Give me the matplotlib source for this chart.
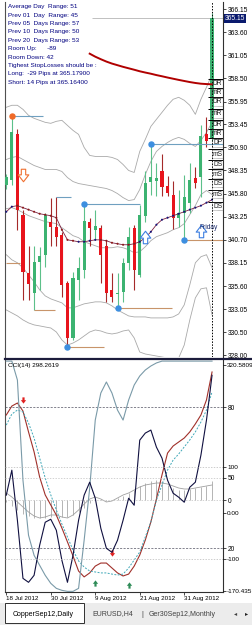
import matplotlib
matplotlib.use("Agg")
import matplotlib.pyplot as plt
from matplotlib.path import Path
from matplotlib.patches import Rectangle
from matplotlib.lines import Line2D
from matplotlib import transforms

W, H = 253, 625
plt.rcParams["font.family"] = ["Liberation Sans", "DejaVu Sans"]

# ---- CopperSep12 daily bars, 18 Jul 2012 .. 7 Sep 2012 ----
opens = [346.70, 347.35, 352.32, 343.47, 337.06, 334.85, 338.31, 339.05, 342.70, 342.15,
         341.26, 335.95, 329.87, 336.28, 337.39, 342.70, 341.74, 342.00, 339.97, 335.18,
         334.73, 334.99, 338.16, 342.00, 336.84, 343.30, 347.12, 347.20, 348.26, 346.68,
         345.68, 343.14, 343.70, 344.80, 347.56, 347.68, 352.32, 351.77]
highs = [348.00, 354.40, 352.88, 344.00, 339.97, 340.04, 339.93, 343.70, 345.30, 345.43,
         341.60, 336.20, 337.10, 338.83, 344.69, 343.10, 344.03, 342.37, 340.70, 337.06,
         337.06, 338.70, 342.15, 342.37, 344.58, 348.26, 351.22, 349.20, 350.20, 347.70,
         347.16, 346.24, 347.90, 349.20, 348.70, 353.40, 354.20, 365.70]
lows = [346.30, 346.80, 341.80, 334.07, 334.07, 332.97, 335.18, 337.75, 339.97, 339.97,
        334.40, 328.87, 329.65, 334.07, 336.50, 339.97, 340.70, 335.90, 333.85, 333.85,
        333.19, 333.85, 337.39, 335.18, 336.60, 342.70, 345.70, 345.50, 345.50, 345.50,
        341.90, 342.15, 340.70, 343.70, 346.46, 345.46, 350.90, 351.55]
closes = [347.68, 352.54, 344.03, 337.20, 335.84, 338.27, 338.94, 343.47, 342.15, 341.04,
          335.73, 329.87, 336.50, 337.61, 342.73, 342.00, 342.26, 339.05, 334.85, 334.45,
          334.85, 338.16, 341.04, 337.39, 343.47, 347.00, 347.68, 347.56, 346.50, 345.90,
          343.10, 343.70, 345.46, 347.34, 347.00, 352.10, 351.60, 365.15]

date_ticks = [0, 8, 16, 24, 32]
date_labels = ["18 Jul 2012", "30 Jul 2012", "9 Aug 2012", "21 Aug 2012", "31 Aug 2012"]
price_ticks = [366.15, 363.60, 361.05, 358.50, 355.95, 353.45, 350.90, 348.35,
               345.80, 343.25, 340.70, 338.15, 335.60, 333.05, 330.50, 328.00]
bid = 365.15

# long moving average (starts at bar 15)
ma_long_start = 15
ma_long = [361.23, 360.90, 360.62, 360.36, 360.14, 359.96, 359.78, 359.62, 359.46, 359.29,
           359.15, 359.02, 358.87, 358.74, 358.60, 358.47, 358.34, 358.22, 358.10, 358.00,
           357.92, 357.88, 357.85]
# short dotted moving average and its trend colour (1 = up, 0 = down)
ma_dot = [343.80, 344.36, 344.47, 344.25, 344.03, 343.80, 343.58, 343.47, 343.36, 343.14,
          341.81, 340.70, 340.60, 340.49, 340.49, 340.60, 340.70, 340.70, 340.60, 340.38,
          340.27, 340.16, 340.16, 340.27, 340.49, 340.93, 341.59, 342.37, 342.92, 343.14,
          343.36, 343.58, 343.80, 344.03, 344.25, 344.47, 344.80, 345.13]
ma_dot_up = [1, 1, 0, 0, 0, 0, 0, 0, 0, 0, 0, 0, 0, 1, 1, 1, 1, 0, 0, 0,
             0, 0, 0, 0, 1, 1, 1, 1, 1, 1, 1, 1, 1, 1, 1, 1, 1, 1]

# bands
bb_up2 = [355.32, 355.54, 355.54, 355.09, 354.43, 354.10, 353.88, 353.66, 353.55, 353.77,
          353.88, 353.32, 352.77, 352.33, 350.89, 350.01, 349.90, 349.90, 349.90, 349.79,
          349.56, 349.01, 348.35, 348.13, 350.45, 351.78, 353.21, 353.99, 354.76, 355.54,
          356.20, 356.42, 356.09, 355.54, 354.54, 356.20, 357.53, 358.96]
bb_up1 = [349.56, 349.79, 349.90, 349.56, 349.23, 348.90, 348.68, 348.46, 348.46, 348.46,
          348.24, 347.57, 347.13, 346.91, 346.80, 346.69, 346.58, 346.47, 346.36, 346.14,
          345.80, 345.36, 345.03, 345.14, 346.25, 347.91, 349.34, 350.45, 351.00, 351.44,
          351.78, 352.00, 351.78, 351.33, 351.00, 351.66, 352.55, 353.66]
bb_mid = [344.14, 344.25, 344.03, 343.70, 343.37, 343.15, 342.93, 342.71, 342.60, 342.49,
          342.04, 341.60, 341.16, 340.94, 340.49, 340.27, 340.05, 339.83, 339.83, 339.83,
          339.94, 339.83, 339.61, 339.28, 339.39, 339.94, 340.61, 341.05, 341.27, 341.49,
          341.82, 342.04, 342.49, 343.48, 344.48, 345.69, 346.14, 345.69]
bb_lo1 = [339.06, 338.50, 338.17, 337.62, 336.85, 336.07, 335.19, 334.52, 334.19, 333.97,
          333.75, 333.20, 333.20, 333.42, 333.64, 333.75, 333.86, 333.86, 333.75, 333.42,
          332.97, 332.64, 332.31, 332.20, 332.20, 332.20, 332.09, 332.09, 332.09, 332.09,
          332.20, 332.53, 333.53, 335.74, 338.17, 338.84, 339.06, 337.62]
bb_lo2 = [332.97, 332.64, 332.31, 331.87, 331.54, 331.32, 331.21, 331.09, 330.98, 330.54,
          329.66, 329.10, 329.32, 329.66, 330.10, 330.54, 330.76, 330.65, 330.43, 330.32,
          330.43, 330.65, 330.76, 329.88, 328.33, 328.11, 328.00, 327.89, 327.78, 327.67,
          327.44, 327.67, 329.10, 331.87, 334.30, 335.30, 335.41, 332.42]

# fractal levels
frac_hi_bar = [1, 9, 14, 26]
frac_hi_price = [354.40, 345.43, 344.69, 351.22]
frac_hi_end = [6.6, 11.7, 24.0, 38.9]
frac_lo_bar = [0, 5, 11, 20, 32]
frac_lo_price = [338.17, 332.97, 328.87, 333.19, 340.70]
frac_lo_end = [2.5, 8.7, 17.6, 29.8, 38.9]
signal_dot_bar = [1]
dot_bars_hi = [14, 26]
dot_bars_lo = [11, 20, 32]

sell_arrow_bar = [3]
sell_arrow_price = [347.90]
buy_arrow_bar = [25, 35]
buy_arrow_price = [341.00, 341.70]

pivot_names = ["DR", "mR", "DR", "mR", "DR", "mR", "DP", "mS", "DS", "mS", "DS", "mS", "DS"]
pivot_levels = [358.41, 357.42, 356.42, 355.09, 353.88, 352.88, 351.89, 350.67,
                349.56, 348.46, 347.46, 346.25, 344.92]

info_lines = ["Average Day  Range: 51", "Prev 01  Day  Range: 45", "Prev 05  Days Range: 57",
              "Prev 10  Days Range: 50", "Prev 20  Days Range: 53", "Room Up:      -89",
              "Room Down: 42", "Tighest StopLosses should be :",
              "Long:  -29 Pips at 365.17900", "Short: 14 Pips at 365.16400"]

# ---- lower window ----
cci = [38.2, 92.5, -16.2, -142.2, -150.8, -135.6, -70.5, -20.5, -14.0, -37.9,
       -103.1, -150.8, -92.2, -16.2, 38.2, 66.4, 31.6, -33.5, -77.0, -85.7,
       -59.6, -16.2, 31.6, 16.4, 157.6, 172.9, 179.4, 142.4, 118.5, 70.7,
       42.5, 33.8, 22.9, 55.5, 66.4, 125.1, 201.1, 298.26]
cci_slow = [329, 329, 288.0, 70.7, -48.7, -92.2, -113.9, -135.6, -153.0, -163.9,
            -168.2, -170.4, -170.4, -163.9, -59.6, 53.4, 201.1, 259.8, 283.7, 259.8,
            222.8, 201.1, 244.5, 277.1, 296.7, 309.7, 318.4, 325.0, 329, 329,
            329, 329, 329, 329, 329, 329, 329, 329]
stoch_main = [76.6, 80.4, 81.7, 78.3, 69.4, 60.9, 50.2, 42.6, 38.3, 34.0,
              28.5, 22.6, 16.6, 10.2, 7.7, 9.4, 12.3, 13.6, 13.6, 11.5,
              9.4, 8.1, 8.9, 12.3, 17.0, 23.4, 31.1, 40.9, 51.1, 60.4,
              63.4, 65.1, 66.8, 69.4, 72.8, 76.6, 83.0, 94.9]
stoch_signal = [72.3, 77.0, 78.7, 77.9, 73.2, 66.8, 58.3, 49.8, 42.6, 36.2,
                30.2, 24.7, 19.1, 14.5, 11.9, 10.2, 9.8, 9.4, 9.4, 8.9,
                8.5, 8.9, 11.5, 14.9, 18.3, 24.7, 31.1, 40.4, 46.8, 53.2,
                57.4, 60.0, 63.0, 66.0, 69.4, 73.6, 78.7, 86.4]
osma = [-2, -6, -10, -14, -16, -18, -18, -18, -17, -16, -17, -17, -15, -12, -8, -3, 2, 1, -1, 0,
        2, 4, 7, 10, 14, 17, 19, 20, 19, 15, 12, 10, 10, 11, 12, 13, 14, 19]
osma_signal = [7, 3, -2, -7, -12, -16, -18, -17, -15, -15, -17, -18, -15, -10, -4, 1, 3, 1, -2, -1,
               2, 5, 7, 10, 13, 15, 16, 17, 17, 16, 14, 12, 11, 11, 12, 13, 14, 15]
stoch_sell_bar = [3, 19]
stoch_sell_val = [83.0, 18.0]
stoch_buy_bar = [16, 22]
stoch_buy_val = [5.0, 4.3]

cci_ticks = [320.5809, 100, 0, -100, -170.435]
cci_tick_labels = ["320.5809", "100", "0.00", "-100", "-170.435"]
stoch_ticks = [80, 50, 20]

tabs = ["CopperSep12,Daily", "EURUSD,H4", "|", "Ger30Sep12,Monthly"]

# ---------------------------------------------------------------
def px_rect(x0, y0, x1, y1):
    return [x0 / W, 1 - y1 / H, (x1 - x0) / W, (y1 - y0) / H]

def fy(y):
    return 1 - y / H

arrow_dn = Path([(-0.35, 1), (0.35, 1), (0.35, 0.1), (0.85, 0.1), (0, -1), (-0.85, 0.1),
                 (-0.35, 0.1), (-0.35, 1)], closed=True)
arrow_up = Path([(px, -py) for px, py in arrow_dn.vertices], closed=True)

fig = plt.figure(figsize=(W / 100, H / 100), dpi=100)
fig.patch.set_facecolor("white")
ax = fig.add_axes(px_rect(5, 2, 223, 357))
axh = fig.add_axes(px_rect(5, 360, 223, 592))
axs = axh.twinx()
axc = axh.twinx()

n = len(opens)
xs = list(range(n))
xlim = (-0.23, 38.97)

# ---- main window ----
green, red = "#3cb371", "#e8141c"
up = [c >= o for o, c in zip(opens, closes)]
body_col = [green if u else red for u in up]
wick_col = ["#5cc08a" if u else "#a52a2a" for u in up]
ax.vlines(xs, lows, highs, colors=wick_col, lw=0.8, zorder=3)
ax.bar(xs, [max(abs(c - o), 0.12) for o, c in zip(opens, closes)],
       bottom=[min(o, c) for o, c in zip(opens, closes)], width=0.56,
       color=body_col, linewidth=0, zorder=4)

for band in (bb_up2, bb_up1, bb_mid, bb_lo1, bb_lo2):
    ax.plot(xs, band, color="#a9a9a9", lw=0.6, zorder=2)

ax.plot(range(ma_long_start, ma_long_start + len(ma_long)), ma_long,
        color="#b00000", lw=1.4, zorder=5)
ax.plot(xs, ma_dot, color="#7b2040", lw=0.6, zorder=5)
ax.scatter(xs, ma_dot, s=2.2, zorder=6, linewidths=0,
           c=["#15157a" if u else "#8b1a1a" for u in ma_dot_up])

ax.hlines(bid, 15.4, xlim[1], color="#c0c0c0", lw=0.7, zorder=1)

for b, p, e in zip(frac_hi_bar, frac_hi_price, frac_hi_end):
    ax.hlines(p, b, e, color="#6fa0c0", lw=0.8, zorder=5)
for b, p, e in zip(frac_lo_bar, frac_lo_price, frac_lo_end):
    ax.hlines(p, b, e, color="#c8946a", lw=0.8, zorder=5)
ax.plot(signal_dot_bar, [frac_hi_price[frac_hi_bar.index(b)] for b in signal_dot_bar],
        "o", color="#f06a28", ms=3.6, zorder=7)
ax.plot(dot_bars_hi, [frac_hi_price[frac_hi_bar.index(b)] for b in dot_bars_hi],
        "o", color="#3d8fe0", ms=3.6, zorder=7)
ax.plot(dot_bars_lo, [frac_lo_price[frac_lo_bar.index(b)] for b in dot_bars_lo],
        "o", color="#3d8fe0", ms=3.6, zorder=7)

ax.plot(sell_arrow_bar, sell_arrow_price, ls="none", marker=arrow_dn, ms=9,
        mfc="white", mec="#f07030", mew=0.8, zorder=7)
ax.plot(buy_arrow_bar, buy_arrow_price, ls="none", marker=arrow_up, ms=9,
        mfc="white", mec="#3d7fe0", mew=0.8, zorder=7)
ax.text(34.8, 342.04, "Friday", color="#1a2a6a", fontsize=4.8, va="center", ha="left", zorder=8)

ax.axvline(n - 1, color="black", ls=(0, (1.5, 1.5)), lw=0.7, zorder=6)

ax.hlines(pivot_levels, 36.3, xlim[1], color="black", lw=0.7, zorder=8)
for name, lv in zip(pivot_names, pivot_levels):
    ax.text(38.85, lv - 0.12, name, ha="right", va="top", fontsize=4.8, color="#202020",
            zorder=9, bbox=dict(boxstyle="square,pad=0.12", fc="none", ec="#404040",
                                lw=0.4, ls=(0, (1, 1))))

ax.set_xlim(*xlim)
ax.set_ylim(327.78, 366.93)
ax.set_xticks([])
ax.yaxis.tick_right()
ax.set_yticks(price_ticks)
ax.set_yticklabels([f"{v:.2f}" for v in price_ticks])
ax.tick_params(axis="y", length=2, width=0.5, pad=1.5, labelsize=4.8)
for side in ("top", "bottom"):
    ax.spines[side].set_visible(False)
ax.spines["left"].set_color("#505050")
ax.spines["right"].set_color("#303030")
ax.spines["right"].set_linewidth(0.8)

ax.text(1.0 + 2 / 218, bid, f"{bid:.2f}", transform=transforms.blended_transform_factory(
    ax.transAxes, ax.transData), color="white", fontsize=4.8, va="center", ha="left",
    bbox=dict(boxstyle="square,pad=0.15", fc="#0a1a6e", ec="none"), zorder=10, clip_on=False)

for k, line in enumerate(info_lines):
    fig.text(8 / W, fy(6.7 + 8.4 * k), line, color="#000080", fontsize=4.6, va="center")

# ---- lower window ----
axh.vlines(xs, 0, osma, color="#a8a8a8", lw=0.6)
axh.plot(xs, osma_signal, color="#a0a0a0", lw=0.6)
axh.axhline(0, color="#c0c0c0", ls=(0, (2, 2)), lw=0.5)
axh.set_ylim(-92, 140)

axs.plot(xs, stoch_main, color="#a0302a", lw=0.8)
axs.plot(xs, stoch_signal, color="#40a8b8", lw=0.7, ls=(0, (2, 1.5)))
for lv in (80, 20):
    axs.axhline(lv, color="#505060", ls=(0, (3, 2)), lw=0.5)
axs.axhline(50, color="#c0c0c0", ls=(0, (2, 2)), lw=0.5)
axs.plot(stoch_sell_bar, stoch_sell_val, ls="none", marker=arrow_dn, ms=4.5,
         color="#e02020", mew=0)
axs.plot(stoch_buy_bar, stoch_buy_val, ls="none", marker=arrow_up, ms=4.5,
         color="#2e8b57", mew=0)
axs.set_ylim(1.28, 100)

axc.plot(xs, cci_slow, color="#7a9aa8", lw=0.8)
axc.plot(xs, cci, color="#101040", lw=0.8)
for lv in (100, -100):
    axc.axhline(lv, color="#b8b8b8", ls=(0, (2, 2)), lw=0.5)
axc.set_ylim(-171.8, 331.4)
axc.text(0.015, 0.985, "CCI(14) 298.2619", transform=axc.transAxes, fontsize=4.6,
         va="top", ha="left")

axh.set_xlim(*xlim)
axh.yaxis.tick_right()
axh.set_yticks([0])
axh.set_yticklabels(["0"])
axs.set_yticks(stoch_ticks)
axs.set_yticklabels([str(v) for v in stoch_ticks])
axc.set_yticks(cci_ticks)
axc.set_yticklabels(cci_tick_labels)
for a in (axh, axs, axc):
    a.tick_params(axis="y", length=2, width=0.5, pad=1.5, labelsize=4.8)
axc.tick_params(axis="y", pad=1, labelsize=4.6)
for a in (axs, axc):
    for sp in a.spines.values():
        sp.set_visible(False)
axh.spines["top"].set_visible(False)
axh.spines["left"].set_color("#505050")
axh.spines["right"].set_color("#303030")
axh.spines["right"].set_linewidth(0.8)
axh.spines["bottom"].set_color("#303030")
axh.set_xticks(date_ticks)
axh.set_xticklabels(date_labels, ha="left")
axh.tick_params(axis="x", length=2, width=0.5, pad=1, labelsize=4.5)

fig.add_artist(Line2D([5 / W, 1], [fy(358.5)] * 2, color="#1c1c3c", lw=1.6))

# ---- tab bar ----
fig.add_artist(Rectangle((0, 0), 1, fy(603), transform=fig.transFigure,
                         fc="#ececec", ec="none"))
fig.add_artist(Rectangle((5 / W, fy(623)), 79 / W, 20 / H, transform=fig.transFigure,
                         fc="white", ec="#303030", lw=0.7))
for label, xp in zip(tabs, [13, 92, 141, 149]):
    fig.text(xp / W, fy(614), label, fontsize=5, va="center",
             color="black" if label == tabs[0] else "#404040")
fig.text(234 / W, fy(614), "\u25c2", fontsize=4.5, va="center", color="#404040")
fig.text(245 / W, fy(614), "\u25b8", fontsize=4.5, va="center", color="#202020")

fig.savefig("out.png", dpi=100)
